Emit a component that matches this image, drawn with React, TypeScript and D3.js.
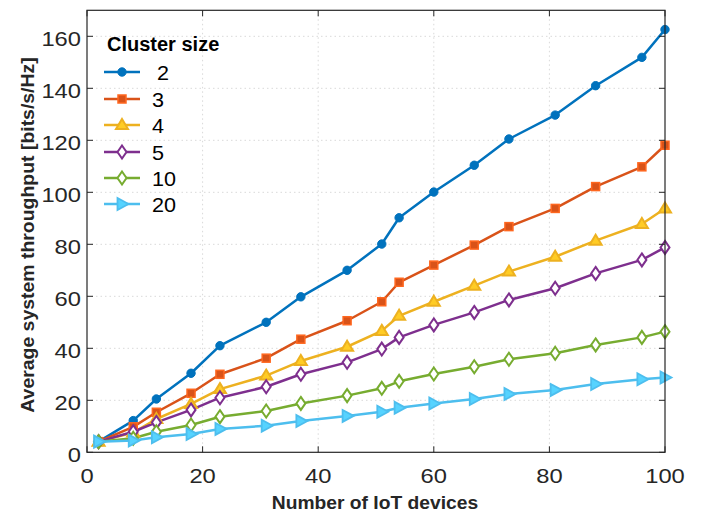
import React from "react";
import * as d3 from "d3";

const devices = [2, 8, 12, 18, 23, 31, 37, 45, 51, 54, 60, 67, 73, 81, 88, 96, 100];
const s2 = [4.1, 12.2, 20.5, 30.4, 41.0, 50.0, 59.8, 70.0, 80.1, 90.2, 100.1, 110.4, 120.5, 129.7, 141.0, 151.9, 162.6];
const s3 = [4.1, 9.8, 15.4, 22.7, 30.0, 36.2, 43.5, 50.6, 57.9, 65.4, 72.0, 79.7, 86.8, 93.8, 102.2, 109.8, 118.1];
const s4 = [4.1, 7.6, 12.8, 18.6, 24.3, 29.5, 35.1, 40.6, 46.7, 52.5, 57.9, 64.1, 69.5, 75.2, 81.4, 87.8, 93.8];
const s5 = [4.1, 7.9, 11.5, 16.3, 21.0, 25.2, 30.0, 34.6, 39.7, 44.2, 49.0, 53.8, 58.6, 63.1, 68.8, 74.0, 78.8];
const s10 = [4.1, 5.4, 7.9, 10.5, 13.7, 15.9, 18.8, 21.8, 24.6, 27.3, 30.1, 32.9, 35.8, 38.1, 41.3, 44.2, 46.4];
const s20 = [4.1, 4.5, 5.8, 7.0, 9.0, 10.2, 12.0, 14.0, 15.6, 17.1, 18.8, 20.5, 22.4, 24.0, 26.3, 28.1, 28.8];
const seriesNames = ["2", "3", "4", "5", "10", "20"];
const seriesValues = [s2, s3, s4, s5, s10, s20];
const colors = ["#0072BD", "#D95319", "#EDB120", "#7E2F8E", "#77AC30", "#4DBEEE"];
const markers = ["circle", "square", "triUp", "diamond", "diamond", "triRight"];
const xTicks = [0, 20, 40, 60, 80, 100];
const yTicks = [0, 20, 40, 60, 80, 100, 120, 140, 160];

const W = 710, H = 512;
const L = 87, R = 665, T = 10.3, B = 452.3;

function Marker({ type, x, y, color }: { type: string; x: number; y: number; color: string }) {
  if (type === "circle") return <circle cx={x} cy={y} r={4.2} fill={color} stroke={color} strokeWidth={1} />;
  if (type === "square")
    return <rect x={x - 4} y={y - 4} width={8} height={8} fill={color} stroke={d3.color(color)!.brighter(0.6).toString()} strokeWidth={1.5} />;
  if (type === "triUp") {
    const p = `M${x},${y - 6} L${x + 6},${y + 4} L${x - 6},${y + 4} Z`;
    return <path d={p} fill={d3.color(color)!.brighter(0.4).toString()} stroke={color} strokeWidth={2} />;
  }
  if (type === "diamond") {
    const p = `M${x},${y - 6.5} L${x + 4.5},${y} L${x},${y + 6.5} L${x - 4.5},${y} Z`;
    return <path d={p} fill="white" stroke={color} strokeWidth={2} />;
  }
  const p = `M${x + 6.5},${y} L${x - 4.5},${y - 6} L${x - 4.5},${y + 6} Z`;
  return <path d={p} fill={d3.color(color)!.brighter(0.3).toString()} stroke={color} strokeWidth={1.8} />;
}

export default function App() {
  const x = d3.scaleLinear().domain([0, 100]).range([L, R]);
  const y = d3.scaleLinear().domain([0, 170]).range([B, T]);
  const line = d3.line<number>().x((_, i) => x(devices[i])).y((d) => y(d));
  const font = "Liberation Sans, Arial, Helvetica, sans-serif";
  const legY = [72, 99, 125, 152, 178, 204];
  const tickFs = 21;
  const sx = 1.13;
  return (
    <svg width={W} height={H} style={{ position: "absolute", left: 0, top: 0, background: "white" }} fontFamily={font}>
      <rect x={0} y={0} width={W} height={H} fill="white" />
      {xTicks.slice(1, -1).map((t) => (
        <line key={"gx" + t} x1={x(t)} x2={x(t)} y1={T} y2={B} stroke="#d9d9d9" strokeWidth={1} strokeDasharray="1.5,3" />
      ))}
      {yTicks.slice(1).map((t) => (
        <line key={"gy" + t} x1={L} x2={R} y1={y(t)} y2={y(t)} stroke="#d9d9d9" strokeWidth={1} strokeDasharray="1.5,3" />
      ))}
      {seriesValues.map((vals, si) => (
        <path key={"l" + si} d={line(vals)!} fill="none" stroke={colors[si]} strokeWidth={2.5} strokeLinejoin="round" />
      ))}
      {seriesValues.map((vals, si) =>
        vals.map((v, i) => <Marker key={"m" + si + "-" + i} type={markers[si]} x={x(devices[i])} y={y(v)} color={colors[si]} />)
      )}
      <rect x={L} y={T} width={R - L} height={B - T} fill="none" stroke="#262626" strokeWidth={1.2} />
      {xTicks.map((t) => (
        <g key={"tx" + t}>
          <line x1={x(t)} x2={x(t)} y1={B} y2={B - 6} stroke="#262626" strokeWidth={1} />
          <line x1={x(t)} x2={x(t)} y1={T} y2={T + 6} stroke="#262626" strokeWidth={1} />
          <text transform={`translate(${x(t)},${B + 31}) scale(${sx},1)`} textAnchor="middle" fontSize={tickFs} fill="#262626">{t}</text>
        </g>
      ))}
      {yTicks.map((t) => (
        <g key={"ty" + t}>
          <line x1={L} x2={L + 6} y1={y(t)} y2={y(t)} stroke="#262626" strokeWidth={1} />
          <line x1={R} x2={R - 6} y1={y(t)} y2={y(t)} stroke="#262626" strokeWidth={1} />
          <text transform={`translate(${L - 6},${y(t) + 10}) scale(${sx},1)`} textAnchor="end" fontSize={tickFs} fill="#262626">{t}</text>
        </g>
      ))}
      <text transform={`translate(${(L + R) / 2 - 1},509) scale(1.07,1)`} textAnchor="middle" fontSize={18} fontWeight="bold" fill="#262626">Number of IoT devices</text>
      <text transform={`translate(34,235) rotate(-90) scale(1.08,1)`} textAnchor="middle" fontSize={18} fontWeight="bold" fill="#262626">
        Average system throughput [bits/s/Hz]
      </text>
      <text x={107} y={51} fontSize={20} fontWeight="bold" fill="#000">Cluster size</text>
      {seriesNames.map((n, i) => (
        <g key={"lg" + n}>
          <line x1={104} x2={140} y1={legY[i]} y2={legY[i]} stroke={colors[i]} strokeWidth={2.5} />
          <Marker type={markers[i]} x={122} y={legY[i]} color={colors[i]} />
          <text transform={`translate(${i === 0 ? 157 : 152},${legY[i] + 7.5}) scale(1.08,1)`} fontSize={20} fill="#000">{n}</text>
        </g>
      ))}
    </svg>
  );
}
